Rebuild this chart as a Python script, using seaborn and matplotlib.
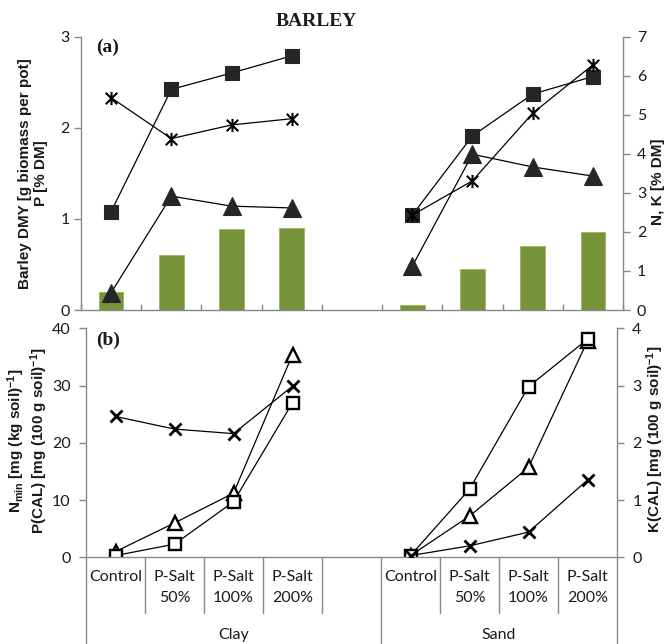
import numpy as np
import pandas as pd
import matplotlib
matplotlib.use("Agg")
import matplotlib.pyplot as plt
import matplotlib.transforms as mtransforms
from matplotlib.path import Path
import seaborn as sns

# ---------------- data ----------------
treatments = ["Control", "P-Salt\n50%", "P-Salt\n100%", "P-Salt\n200%"]
soils = ["Clay", "Sand"]

# panel (a) – barley
dmy_clay = [0.20, 0.60, 0.885, 0.90]      # g biomass per pot (bars, left axis)
dmy_sand = [0.06, 0.45, 0.70, 0.855]
p_clay = [0.19, 1.25, 1.14, 1.12]         # P [% DM] (triangles, left axis)
p_sand = [0.48, 1.71, 1.57, 1.47]
n_clay = [2.52, 5.65, 6.07, 6.51]         # N [% DM] (squares, right axis)
n_sand = [2.43, 4.46, 5.53, 5.98]
k_clay = [5.44, 4.39, 4.74, 4.90]         # K [% DM] (stars, right axis)
k_sand = [2.43, 3.31, 5.04, 6.28]

# panel (b) – soil
nmin_clay = [1.0, 6.0, 11.2, 35.4]        # triangles, left axis
nmin_sand = [0.3, 7.2, 15.7, 37.8]
pcal_clay = [0.3, 2.3, 9.7, 27.0]         # squares, left axis
pcal_sand = [0.3, 11.9, 29.8, 38.1]
kcal_clay = [2.46, 2.24, 2.16, 2.99]      # crosses, right axis
kcal_sand = [0.03, 0.20, 0.44, 1.35]

# ---------------- tidy frames ----------------
rows = []
for s_i, soil in enumerate(soils):
    for t_i, trt in enumerate(treatments):
        rows.append({"soil": soil, "treatment": trt, "pos": s_i * (len(treatments) + 1) + t_i})
df = pd.DataFrame(rows)
df["dmy"] = dmy_clay + dmy_sand
df["p"] = p_clay + p_sand
df["n"] = n_clay + n_sand
df["k"] = k_clay + k_sand
df["nmin"] = nmin_clay + nmin_sand
df["pcal"] = pcal_clay + pcal_sand
df["kcal"] = kcal_clay + kcal_sand
n_slots = 2 * (len(treatments) + 1) - 1

# ---------------- style ----------------
sns.set_style("white")
plt.rcParams["font.family"] = ["Lato", "DejaVu Sans"]
plt.rcParams["mathtext.fontset"] = "custom"
plt.rcParams["mathtext.rm"] = "Liberation Sans:bold"
plt.rcParams["mathtext.it"] = "Liberation Sans:bold"
plt.rcParams["mathtext.bf"] = "Liberation Sans:bold"
plt.rcParams["mathtext.default"] = "rm"

GRAY = "#898989"
TXT = "#1a1a1a"
MK = "#262626"
GREEN = "#77933C"
W, H = 670, 644
TICK_FS = 11.5
LAB_FS = 11.0

fig = plt.figure(figsize=(W / 100, H / 100), dpi=100)
axA = fig.add_axes([81 / W, 1 - 310 / H, 542 / W, 273.3 / H])
axA2 = axA.twinx()
axB = fig.add_axes([86 / W, 1 - 557.3 / H, 531 / W, 229 / H])
axB2 = axB.twinx()

star = Path([(-1, -1), (1, 1), (-1, 1), (1, -1), (0, -1.15), (0, 1.15)],
            [Path.MOVETO, Path.LINETO, Path.MOVETO, Path.LINETO, Path.MOVETO, Path.LINETO])

# ---------------- panel (a) ----------------
sns.barplot(data=df, x="pos", y="dmy", native_scale=True, color=GREEN, saturation=1,
            width=0.41, errorbar=None, ax=axA, edgecolor="#9bb35f", linewidth=0.6)
line_kw = dict(units="soil", estimator=None, color="black", lw=0.9, legend=False)
sns.lineplot(data=df, x="pos", y="p", marker="^", markersize=12.5, markerfacecolor=MK,
             markeredgecolor=MK, markeredgewidth=0.8, ax=axA, **line_kw)
sns.lineplot(data=df, x="pos", y="n", marker="s", markersize=9.5, markerfacecolor=MK,
             markeredgecolor=MK, markeredgewidth=0.8, ax=axA2, **line_kw)
sns.lineplot(data=df, x="pos", y="k", marker=star, markersize=9.5, markerfacecolor="none",
             markeredgecolor="black", markeredgewidth=1.5, ax=axA2, **line_kw)

axA.set_xlim(-0.5, n_slots - 0.5)
axA.set_ylim(0, 3)
axA2.set_ylim(0, 7)
axA.set_yticks([0, 1, 2, 3])
axA2.set_yticks(range(0, 8))
axA.set_xticks(np.arange(-0.5, n_slots, 1.0))
axA.set_xticklabels([])
axA.tick_params(axis="x", direction="in", length=4, color=GRAY, width=1, bottom=True)
axA.tick_params(axis="y", direction="out", length=5, color=GRAY, width=1, left=True,
                labelsize=TICK_FS, labelcolor=TXT, pad=3)
axA2.tick_params(axis="y", direction="out", length=5, color=GRAY, width=1, right=True,
                 labelsize=TICK_FS, labelcolor=TXT, pad=5)
for ax in (axA, axA2):
    ax.set_xlabel("")
    ax.spines["top"].set_visible(False)
    for s in ax.spines.values():
        s.set_color(GRAY)
        s.set_linewidth(1)
axA.spines["right"].set_visible(False)
axA2.spines["left"].set_visible(False)
axA2.spines["bottom"].set_visible(False)

axA.set_ylabel("Barley DMY [g biomass per pot]\nP [% DM]", fontsize=LAB_FS, fontweight="bold",
               family="Liberation Sans", color=TXT, linespacing=1.2)
axA.yaxis.label.set_va("center")
axA.yaxis.set_label_coords(-0.089, 0.5)
axA2.set_ylabel("N, K [% DM]", fontsize=LAB_FS, fontweight="bold", family="Liberation Sans",
                color=TXT, rotation=90)
axA2.yaxis.label.set_va("center")
axA2.yaxis.set_label_coords(1.064, 0.47)

fig.text(316 / W, 1 - 22 / H, "BARLEY", ha="center", va="center", fontsize=14,
         fontweight="bold", family="Liberation Serif", color=TXT)
fig.text(108 / W, 1 - 47 / H, "(a)", ha="center", va="center", fontsize=14,
         fontweight="bold", family="Liberation Serif", color=TXT)

# ---------------- panel (b) ----------------
open_kw = dict(markerfacecolor="white", markeredgecolor="black", markeredgewidth=1.7)
sns.lineplot(data=df, x="pos", y="nmin", marker="^", markersize=10, ax=axB, **open_kw, **line_kw)
sns.lineplot(data=df, x="pos", y="pcal", marker="s", markersize=8, ax=axB, **open_kw, **line_kw)
sns.lineplot(data=df, x="pos", y="kcal", marker="x", markersize=9, markeredgecolor="black",
             markeredgewidth=2.0, ax=axB2, **line_kw)

axB.set_xlim(-0.5, n_slots - 0.5)
axB.set_ylim(0, 40)
axB2.set_ylim(0, 4)
axB.set_yticks(range(0, 41, 10))
axB2.set_yticks(range(0, 5))
labels = []
for s_i, soil in enumerate(soils):
    labels += treatments
    if s_i < len(soils) - 1:
        labels += [""]
axB.set_xticks(range(n_slots))
axB.set_xticklabels(labels)
for lbl in axB.get_xticklabels():
    lbl.set_linespacing(1.65)
axB.tick_params(axis="x", length=0, labelsize=TICK_FS, labelcolor=TXT, pad=9)
axB.tick_params(axis="y", direction="out", length=5, color=GRAY, width=1, left=True,
                labelsize=TICK_FS, labelcolor=TXT, pad=6)
axB2.tick_params(axis="y", direction="out", length=5, color=GRAY, width=1, right=True,
                 labelsize=TICK_FS, labelcolor=TXT, pad=6)
for ax in (axB, axB2):
    ax.set_xlabel("")
    ax.spines["top"].set_visible(False)
    for s in ax.spines.values():
        s.set_color(GRAY)
        s.set_linewidth(1)
axB.spines["right"].set_visible(False)
axB2.spines["left"].set_visible(False)
axB2.spines["bottom"].set_visible(False)

# category table lines below the axis
trans = mtransforms.blended_transform_factory(axB.transData, axB.transAxes)
short_end = (557.3 - 613) / 229
long_end = (557.3 - 644) / 229
group_edges = {0, len(treatments) + 1, n_slots}
for k in range(n_slots + 1):
    y1 = long_end if k in group_edges else short_end
    axB.plot([k - 0.5, k - 0.5], [0, y1], transform=trans, color=GRAY, lw=1, clip_on=False)
group_centres = [(len(treatments)) / 2, (len(treatments) + 1) + (len(treatments) - 1) / 2]
for soil, xc in zip(soils, group_centres):
    axB.text(xc, (557.3 - 635) / 229, soil, transform=trans, ha="center", va="center",
             fontsize=TICK_FS, color=TXT)

axB.set_ylabel("$N_{min}$ [mg (kg soil)$^{-1}$]\nP(CAL) [mg (100 g soil)$^{-1}$]",
               fontsize=LAB_FS, fontweight="bold", family="Liberation Sans", color=TXT,
               linespacing=1.1)
axB.yaxis.label.set_va("center")
axB.yaxis.set_label_coords(-0.11, 0.508)
axB2.set_ylabel("K(CAL) [mg (100 g soil)$^{-1}$]", fontsize=LAB_FS, fontweight="bold",
                family="Liberation Sans", color=TXT, rotation=90)
axB2.yaxis.label.set_va("center")
axB2.yaxis.set_label_coords(1.0716, 0.517)

fig.text(108 / W, 1 - 340 / H, "(b)", ha="center", va="center", fontsize=14,
         fontweight="bold", family="Liberation Serif", color=TXT)

fig.savefig("out.png", dpi=100)
